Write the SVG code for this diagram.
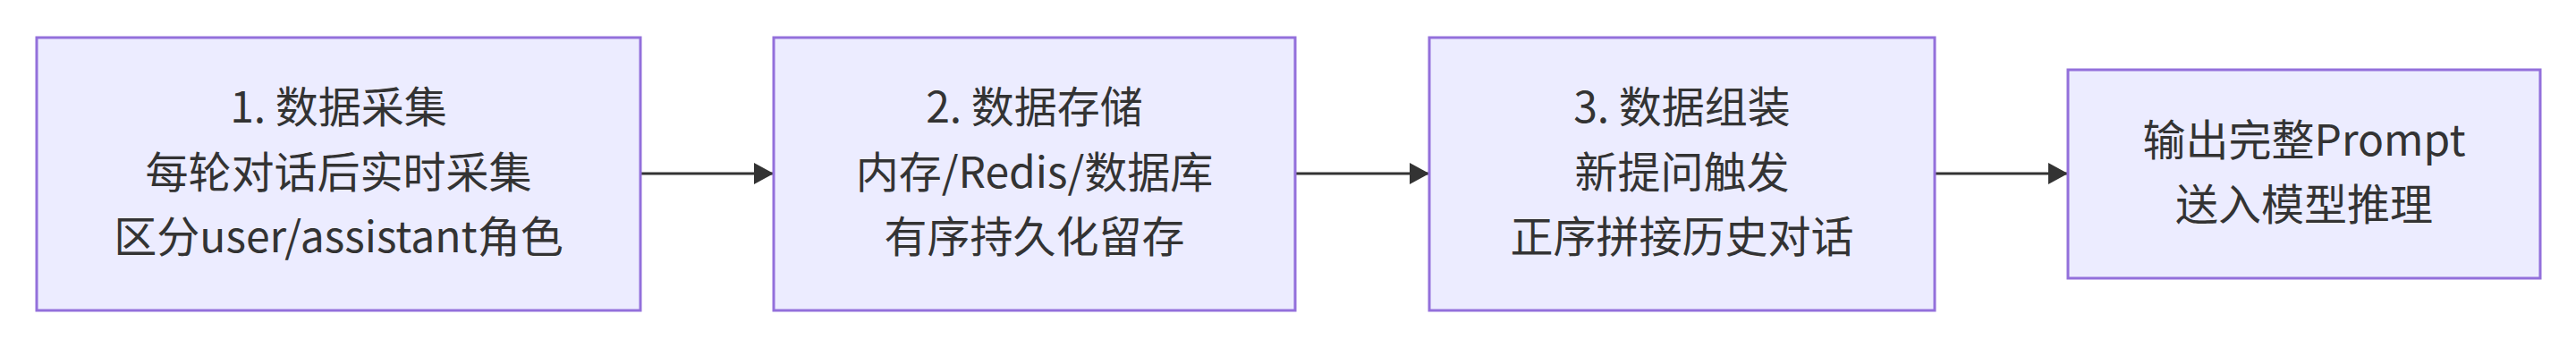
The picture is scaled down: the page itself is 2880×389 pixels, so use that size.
<svg xmlns="http://www.w3.org/2000/svg" width="2880" height="389" viewBox="0 0 2880 389">
<style>
.box{fill:#ECECFF;stroke:#9370DB;stroke-width:3}
.lbl{font-family:"Noto Sans CJK SC","Noto Sans",sans-serif;font-size:48px;fill:#333333;text-anchor:middle}
.edge{stroke:#333333;stroke-width:3;fill:none}
</style>
<defs>
<marker id="ah" markerUnits="userSpaceOnUse" markerWidth="22" markerHeight="24" refX="22" refY="12" orient="auto">
<path d="M0,0 L22,12 L0,24 z" fill="#333333"/>
</marker>
</defs>
<rect width="2880" height="389" fill="#ffffff"/>
<g id="connectors">
<line class="edge" x1="716" y1="194" x2="865" y2="194" marker-end="url(#ah)"/>
<line class="edge" x1="1448" y1="194" x2="1598" y2="194" marker-end="url(#ah)"/>
<line class="edge" x1="2163" y1="194" x2="2312" y2="194" marker-end="url(#ah)"/>
</g>
<g id="node1">
<rect class="box" x="41" y="42" width="675" height="305"/>
<text class="lbl" x="378.5" y="137">1. 数据采集</text>
<text class="lbl" x="378.5" y="210">每轮对话后实时采集</text>
<text class="lbl" x="378.5" y="282">区分user/assistant角色</text>
</g>
<g id="node2">
<rect class="box" x="865" y="42" width="583" height="305"/>
<text class="lbl" x="1156.5" y="137">2. 数据存储</text>
<text class="lbl" x="1156.5" y="210">内存/Redis/数据库</text>
<text class="lbl" x="1156.5" y="282">有序持久化留存</text>
</g>
<g id="node3">
<rect class="box" x="1598" y="42" width="565" height="305"/>
<text class="lbl" x="1880.5" y="137">3. 数据组装</text>
<text class="lbl" x="1880.5" y="210">新提问触发</text>
<text class="lbl" x="1880.5" y="282">正序拼接历史对话</text>
</g>
<g id="node4">
<rect class="box" x="2312" y="78" width="528" height="233"/>
<text class="lbl" x="2576" y="174">输出完整Prompt</text>
<text class="lbl" x="2576" y="246">送入模型推理</text>
</g>
</svg>
